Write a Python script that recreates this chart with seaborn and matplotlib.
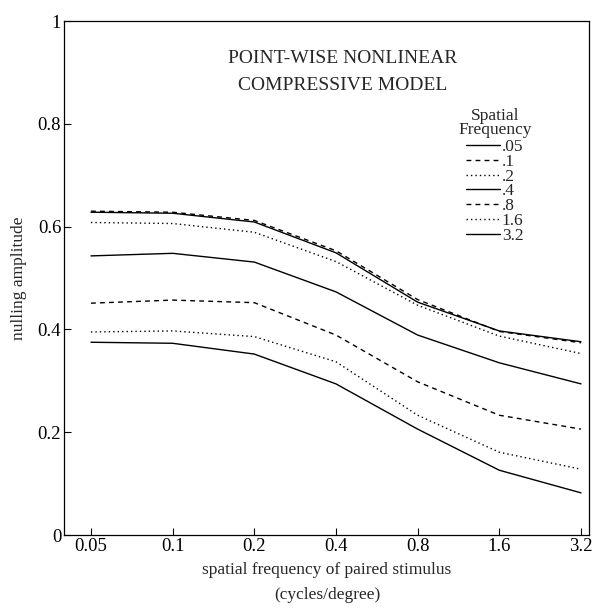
import matplotlib
matplotlib.use("Agg")
import matplotlib.pyplot as plt
import seaborn as sns
import pandas as pd

# ---- data ----
paired_freq_labels = ["0.05", "0.1", "0.2", "0.4", "0.8", "1.6", "3.2"]
series_names = [".05", ".1", ".2", ".4", ".8", "1.6", "3.2"]
sf_05 = [0.628, 0.626, 0.609, 0.549, 0.453, 0.397, 0.376]
sf_1 = [0.630, 0.628, 0.612, 0.553, 0.458, 0.396, 0.374]
sf_2 = [0.608, 0.606, 0.589, 0.532, 0.447, 0.387, 0.353]
sf_4 = [0.543, 0.548, 0.531, 0.473, 0.389, 0.335, 0.294]
sf_8 = [0.451, 0.457, 0.452, 0.389, 0.298, 0.233, 0.206]
sf_16 = [0.395, 0.397, 0.386, 0.337, 0.233, 0.161, 0.128]
sf_32 = [0.375, 0.373, 0.352, 0.294, 0.206, 0.126, 0.082]
y_ticks = [0, 0.2, 0.4, 0.6, 0.8, 1]
y_tick_labels = ["0", "0.2", "0.4", "0.6", "0.8", "1"]

all_series = [sf_05, sf_1, sf_2, sf_4, sf_8, sf_16, sf_32]
rows = []
for name, vals in zip(series_names, all_series):
    for i, v in enumerate(vals):
        rows.append({"pos": i, "freq": name, "amp": v})
df = pd.DataFrame(rows)

sns.set_theme(style="ticks")
plt.rcParams["font.family"] = ["Liberation Serif", "DejaVu Serif"]

fig = plt.figure(figsize=(5.92, 6.08), dpi=100)
ax = fig.add_axes([64 / 592, 1 - 535 / 608, 525 / 592, 514 / 608])

dot = (1, 2.2)
dash = (3.5, 3)
dashes = {".05": "", ".1": dash, ".2": dot, ".4": "", ".8": dash, "1.6": dot, "3.2": ""}
sns.lineplot(data=df, x="pos", y="amp", hue="freq", style="freq",
             hue_order=series_names, style_order=series_names,
             palette=["black"] * 7, dashes=dashes, linewidth=1.0,
             ax=ax, legend=True)

ax.set_xlim(-0.33, 6.098)
ax.set_ylim(0, 1)
ax.set_xticks(range(len(paired_freq_labels)))
ax.set_xticklabels(paired_freq_labels)
ax.set_yticks(y_ticks)
ax.set_yticklabels(y_tick_labels)
ax.tick_params(direction="in", length=5, width=0.8, labelsize=13.5, pad=2, colors="black")
for s in ax.spines.values():
    s.set_visible(True)
    s.set_linewidth(0.9)
    s.set_color("black")

ax.set_xlabel("spatial frequency of paired stimulus", fontsize=12.5, labelpad=5)
ax.set_ylabel("nulling amplitude", fontsize=12.5, labelpad=8)
fig.text(327 / 592, 1 - 595 / 608, "(cycles/degree)", ha="center", va="center", fontsize=12.5)

ax.text(0.53, 0.928, "POINT-WISE NONLINEAR", transform=ax.transAxes,
        ha="center", va="center", fontsize=14)
ax.text(0.53, 0.875, "COMPRESSIVE MODEL", transform=ax.transAxes,
        ha="center", va="center", fontsize=14)

handles, labels = ax.get_legend_handles_labels()
leg = ax.legend(handles, labels, title="Spatial\nFrequency", loc="upper left",
                bbox_to_anchor=(458 / 592, 1 - 108 / 608), bbox_transform=fig.transFigure,
                frameon=False, fontsize=12.5, title_fontsize=12.5, handlelength=1.95,
                handletextpad=0.1, labelspacing=-0.08, borderpad=0, borderaxespad=0)
leg.get_title().set_linespacing(0.8)
leg.get_title().set_multialignment("center")
leg._legend_box.sep = 1
for line in leg.get_lines():
    line.set_linewidth(1.0)

fig.savefig("out.png", dpi=100)
